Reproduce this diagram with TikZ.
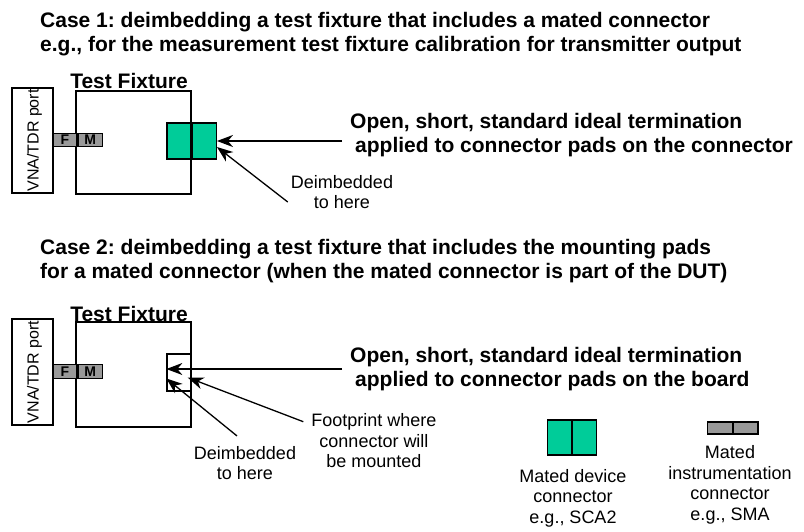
\documentclass[tikz,border=0pt]{standalone}
\usepackage{fontspec}
\setmainfont{Liberation Sans}
\usetikzlibrary{positioning,arrows.meta}
\definecolor{padgreen}{HTML}{00CC99}
\definecolor{smagray}{HTML}{999999}
\frenchspacing
\tikzset{
  bigtxt/.style={font=\fontsize{21}{24}\selectfont\bfseries, inner sep=0pt},
  smalltxt/.style={font=\fontsize{18}{20.5}\selectfont, align=center, inner sep=3pt},
  box/.style={draw, line width=1.3pt, inner sep=0pt},
  vnabox/.style={box, rotate=90, minimum height=41pt, text height=14pt, text depth=2pt,
                 font=\fontsize{16}{18}\selectfont},
  pad/.style={box, fill=padgreen, minimum width=24pt, minimum height=36pt},
  sma/.style={box, fill=smagray, minimum width=24pt, minimum height=13.5pt,
              font=\fontsize{14}{14}\selectfont\bfseries},
  arr/.style={line width=1.3pt, -{Stealth[length=16pt,width=12pt,inset=5pt]}}
}

\begin{document}
\begin{tikzpicture}[x=1pt,y=-1pt]
  \useasboundingbox (0,0) rectangle (804,531);

  % case 1
  \node[bigtxt, anchor=west, align=left] (title1) at (40,34)
    {Case 1: deimbedding a test fixture that includes a mated connector\\
     e.g., for the measurement test fixture calibration for transmitter output};
  \node[box, minimum width=115pt, minimum height=103pt] (fix1) at (133.5,142.5) {};
  \node[bigtxt, anchor=base] (tf1) at (129,88) {Test Fixture};
  \node[vnabox, minimum width=105pt] (vna1) at (32.5,140.5) {VNA/TDR port};
  \node[sma] (f1) at (65,140) {F};
  \node[sma, right=0pt of f1] (m1) {M};
  \node[pad] (ga1) at (179,141) {};
  \node[pad, right=0pt of ga1] (gb1) {};
  \node[bigtxt, anchor=west, align=left, inner xsep=8pt] (open1) at (342,135)
    {Open, short, standard ideal termination\\
     \hspace{5pt}applied to connector pads on the connector};
  \node[smalltxt] (deimb1) at (342,192) {Deimbedded\\to here};
  \draw[arr] (open1.west |- gb1.east) -- (gb1.east);
  \draw[arr] ([yshift=-10pt]deimb1.west) -- ([yshift=-6pt]gb1.east);

  % case 2
  \node[bigtxt, anchor=west, align=left] (title2) at (40,261)
    {Case 2: deimbedding a test fixture that includes the mounting pads\\
     for a mated connector (when the mated connector is part of the DUT)};
  \node[box, minimum width=115pt, minimum height=105pt] (fix2) at (133.5,374.5) {};
  \node[bigtxt, anchor=base] (tf2) at (129,321) {Test Fixture};
  \node[vnabox, minimum width=106pt] (vna2) at (32.5,372) {VNA/TDR port};
  \node[sma] (f2) at (65,371.5) {F};
  \node[sma, right=0pt of f2] (m2) {M};
  \node[box, minimum width=24pt, minimum height=37pt] (fp2) at (179,372.5) {};
  \node[bigtxt, anchor=west, align=left, inner xsep=8pt] (open2) at (342,369)
    {Open, short, standard ideal termination\\
     \hspace{5pt}applied to connector pads on the board};
  \node[smalltxt] (deimb2) at (245,463) {Deimbedded\\to here};
  \node[smalltxt] (fptext) at (374,441) {Footprint where\\connector will\\be mounted};
  \draw[arr] (open2.west) -- (open2.west -| fp2.west);
  \draw[arr] ([xshift=-5pt,yshift=-11pt]fptext.north west) -- ([xshift=-4pt,yshift=-5pt]fp2.east);
  \draw[arr] ([xshift=-8pt,yshift=7pt]deimb2.north) -- ([yshift=-6pt]fp2.west);

  % legend
  \node[pad, minimum height=35pt] (ga3) at (559.5,437.5) {};
  \node[pad, minimum height=35pt, right=0pt of ga3] (gb3) {};
  \node[smalltxt] (legdev) at (573,498) {Mated device\\connector\\e.g., SCA2};
  \node[sma, minimum width=24.5pt, minimum height=12pt] (fa3) at (720,428) {};
  \node[sma, minimum width=24.5pt, minimum height=12pt, right=0pt of fa3] (fb3) {};
  \node[smalltxt] (leginst) at (730,485) {Mated\\instrumentation\\connector\\e.g., SMA};
\end{tikzpicture}
\end{document}
